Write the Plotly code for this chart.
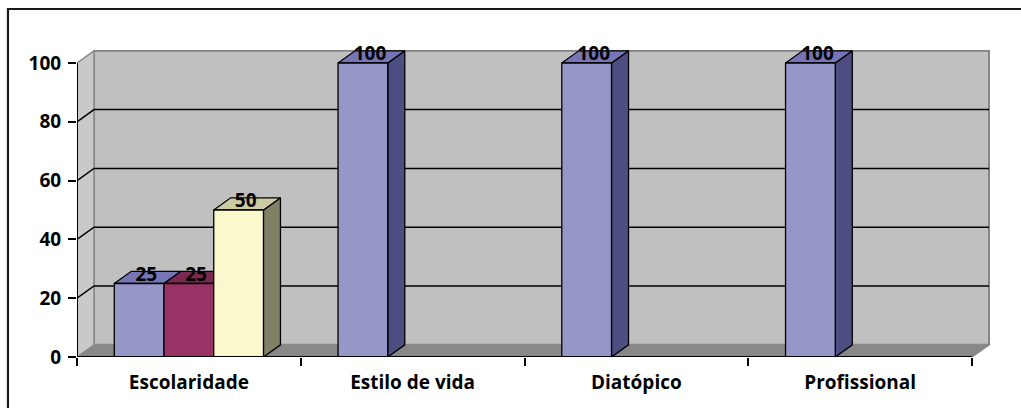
import plotly.graph_objects as go

# ---- data ----
categories = ["Escolaridade", "Estilo de vida", "Diatópico", "Profissional"]
series_a = [25, 100, 100, 100]
series_b = [25, None, None, None]
series_c = [50, None, None, None]
y_ticks = [0, 20, 40, 60, 80, 100]

# face colours per series: (front, top, side)
palette = [
    ("#9696C9", "#7676B6", "#4E4E82"),
    ("#993366", "#7A2952", "#5C1F3D"),
    ("#FBF8CE", "#CCCBA2", "#808066"),
]

# ---- 3D geometry (in axis units) ----
n_cat = len(categories)
n_ser = 3
bar_w = 1 / (n_ser + 1.5)          # gap width 150 %
gap = 0.75 * bar_w
dx, dy = 0.076, 4.15                # depth offset of the chart box
y_max = 100

fig = go.Figure()


def poly(xs, ys, fill, line_color="black", line_width=1.3):
    fig.add_trace(go.Scatter(
        x=xs + [xs[0]], y=ys + [ys[0]], mode="lines", fill="toself",
        fillcolor=fill, line=dict(color=line_color, width=line_width),
        hoverinfo="skip", cliponaxis=False))


def seg(xs, ys, color="black", width=1.5):
    fig.add_trace(go.Scatter(
        x=xs, y=ys, mode="lines", line=dict(color=color, width=width),
        hoverinfo="skip", cliponaxis=False))


# back wall, floor and side wall
poly([dx, n_cat + dx, n_cat + dx, dx], [dy, dy, y_max + dy, y_max + dy],
     "#C0C0C0", "#858585", 2)
poly([0, n_cat, n_cat + dx, dx], [0, 0, dy, dy], "#878787", "#8A8A8A", 1.5)
poly([0, dx, dx, 0], [0, dy, y_max + dy, y_max], "#C9C9C9", "#8A8A8A", 1.5)

# gridlines on the walls
for v in y_ticks[1:-1]:
    seg([0, dx, n_cat + dx], [v, v + dy, v + dy], "black", 1.5)

# bars: side, top, front for each bar from left to right
all_series = [series_a, series_b, series_c]
label_x, label_y, label_t = [], [], []
for i in range(n_cat):
    for s, values in enumerate(all_series):
        v = values[i]
        if v is None:
            continue
        x0 = i + gap + s * bar_w
        x1 = x0 + bar_w
        front, top, side = palette[s]
        poly([x1, x1 + dx, x1 + dx, x1], [0, dy, v + dy, v], side)
        poly([x0, x1, x1 + dx, x0 + dx], [v, v, v + dy, v + dy], top)
        poly([x0, x1, x1, x0], [0, 0, v, v], front)
        label_x.append((x0 + x1) / 2 + dx * 0.42)
        label_y.append(v + dy * 0.6)
        label_t.append(str(v))

label_font = dict(family="Open Sans", size=19, color="black", weight="bold")

# value labels
fig.add_trace(go.Scatter(
    x=label_x, y=label_y, text=label_t, mode="text",
    textposition="middle center", cliponaxis=False, hoverinfo="skip",
    textfont=label_font))

# front axis lines
seg([0, 0], [0, y_max], "black", 2)
seg([0, n_cat], [0, 0], "black", 2)

# outer chart border
fig.add_shape(type="rect", xref="paper", yref="paper",
              x0=-0.0756, x1=1.2, y0=-0.6, y1=1.1336,
              line=dict(color="#1A1A1A", width=2.2), fillcolor="rgba(0,0,0,0)")

tick_font = dict(family="Open Sans", size=19, color="black", weight="bold")

fig.update_layout(
    width=1021, height=408,
    margin=dict(l=77, r=31, t=50, b=51),
    paper_bgcolor="white", plot_bgcolor="white",
    showlegend=False,
    xaxis=dict(
        range=[0, (990 - 77) / (895 / n_cat)],
        tickmode="array", tickvals=[i + 0.5 for i in range(n_cat)],
        ticktext=categories, ticks="", showgrid=False, zeroline=False,
        showline=False, tickfont=tick_font, ticklabelstandoff=12,
        minor=dict(tickmode="linear", tick0=0, dtick=1, ticks="outside",
                   ticklen=8, tickwidth=2, tickcolor="black", showgrid=False),
    ),
    yaxis=dict(
        range=[0, 104.42], tickmode="array", tickvals=y_ticks,
        ticks="outside", ticklen=8, tickwidth=2, tickcolor="black",
        showgrid=False, zeroline=False, showline=False,
        tickfont=tick_font, ticklabelstandoff=3,
    ),
)

fig.write_html("out.html")
